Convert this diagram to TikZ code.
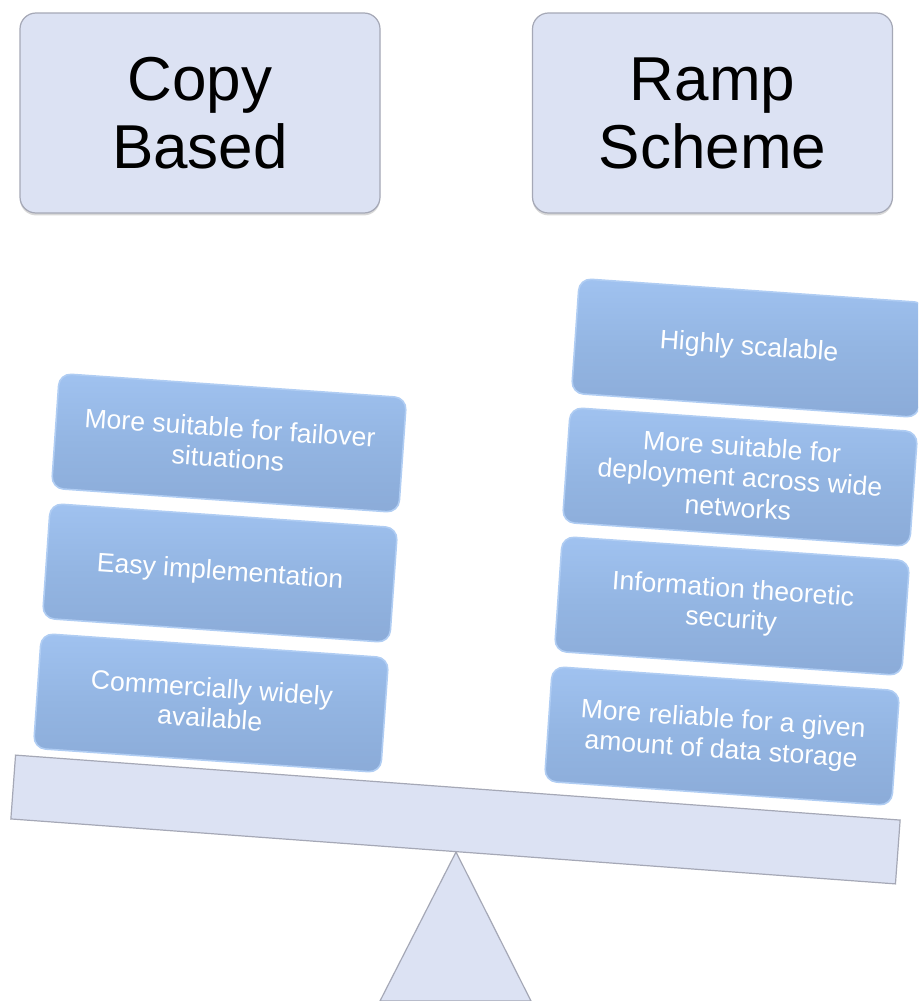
\documentclass[tikz,border=0pt]{standalone}
\usepackage{fontspec}
\setmainfont{Liberation Sans}
\usetikzlibrary{shadows}
\definecolor{topfill}{RGB}{220,226,243}
\definecolor{topborder}{RGB}{165,168,182}
\definecolor{bluetop}{RGB}{160,194,240}
\definecolor{bluemid}{RGB}{147,181,226}
\definecolor{bluebot}{RGB}{139,171,216}
\definecolor{blueedge}{RGB}{176,205,243}
\begin{document}
\begin{tikzpicture}[x=0.5pt,y=-0.5pt,
  header/.style={draw=topborder, line width=0.6pt, fill=topfill, rounded corners=8pt,
    minimum width=180pt, minimum height=100pt, align=center, inner sep=0pt,
    font=\fontsize{31}{34}\selectfont,
    drop shadow={shadow xshift=0pt, shadow yshift=-1.2pt, opacity=0.25, fill=black!60}},
  item/.style={rounded corners=6pt, minimum width=174pt, minimum height=57.5pt,
    rotate=-4, align=center, inner sep=0pt, text=white,
    font=\fontsize{13.3}{15.2}\selectfont,
    top color=bluetop, bottom color=bluebot, middle color=bluemid,
    draw=blueedge, line width=0.8pt},
  plank/.style={draw=topborder, line width=0.6pt, fill=topfill}]
\clip (0,0) rectangle (918,1001);
\fill[white] (0,0) rectangle (918,1001);

% headers
\node[header] (copy) at (200,113) {Copy\\Based};
\node[header] (ramp) at (712.5,113) {Ramp\\Scheme};

% fulcrum
\coordinate (apex) at (456,852);
\coordinate (baseL) at (380,1001);
\coordinate (baseR) at (531,1001);
\draw[plank] (apex) -- (baseR) -- (baseL) -- cycle;

% beam
\node[plank, rotate=-4.2, minimum width=443.5pt, minimum height=32pt, inner sep=0pt] (beam) at (455.5,819.5) {};

% left stack
\node[item] (l1) at (229,443) {More suitable for failover\\situations};
\node[item] (l2) at (220,573) {Easy implementation};
\node[item] (l3) at (211,703) {Commercially widely\\available};

% right stack
\node[item] (r1) at (749,348) {Highly scalable};
\node[item] (r2) at (740,477) {More suitable for\\deployment across wide\\networks};
\node[item] (r3) at (732,606) {Information theoretic\\security};
\node[item] (r4) at (722,736) {More reliable for a given\\amount of data storage};
\end{tikzpicture}
\end{document}
